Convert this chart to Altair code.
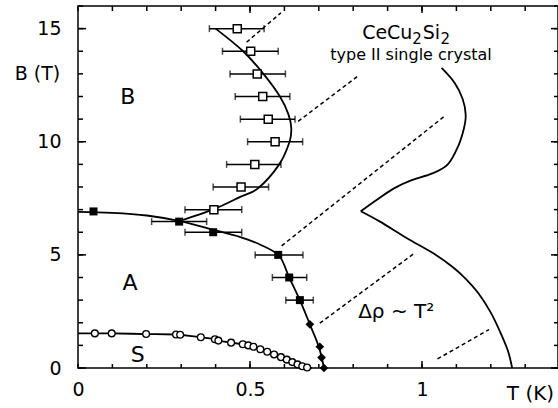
import altair as alt
import pandas as pd

# ---------------- data ----------------
# open squares: upper boundary of phase B, with horizontal error bars
osq_T = [0.463, 0.502, 0.521, 0.537, 0.553, 0.573, 0.514, 0.474, 0.395]
osq_B = [15, 14, 13, 12, 11, 10, 9, 8, 7]
osq_lo = [0.382, 0.420, 0.442, 0.457, 0.472, 0.493, 0.432, 0.393, 0.311]
osq_hi = [0.541, 0.582, 0.603, 0.616, 0.631, 0.653, 0.590, 0.554, 0.476]

# filled squares: A-phase boundary
fsq_T = [0.045, 0.294, 0.393, 0.582, 0.614, 0.645]
fsq_B = [6.92, 6.47, 6.0, 5.0, 4.0, 3.0]
fsq_lo = [None, 0.214, 0.311, 0.515, 0.565, 0.604]
fsq_hi = [None, 0.374, 0.476, 0.654, 0.665, 0.684]

# filled diamonds
dia_T = [0.674, 0.703, 0.708, 0.715]
dia_B = [1.93, 0.94, 0.46, 0.0]

# open circles: superconducting (S) boundary
circ_T = [0.049, 0.098, 0.198, 0.285, 0.297, 0.357, 0.398, 0.408, 0.445, 0.479, 0.495,
          0.510, 0.530, 0.550, 0.570, 0.590, 0.607, 0.623, 0.638, 0.652, 0.666]
circ_B = [1.53, 1.53, 1.50, 1.48, 1.47, 1.36, 1.27, 1.21, 1.12, 1.05, 1.00,
          0.94, 0.83, 0.72, 0.60, 0.48, 0.37, 0.26, 0.16, 0.08, 0.02]

# solid guide lines
lineA_T = [0.0, 0.1, 0.2, 0.3, 0.4, 0.47, 0.53, 0.585, 0.614, 0.645, 0.674, 0.70, 0.715]
lineA_B = [6.9, 6.86, 6.74, 6.48, 6.08, 5.8, 5.45, 4.95, 4.0, 3.0, 1.93, 0.94, 0.0]
lineB_T = [0.29, 0.395, 0.47, 0.524, 0.585, 0.615, 0.62, 0.612, 0.587, 0.539, 0.48, 0.40]
lineB_B = [6.47, 7.02, 7.55, 7.95, 9.0, 10.0, 10.6, 11.2, 12.0, 13.0, 14.0, 15.0]
lineS_T = [0.0] + circ_T + [0.68]
lineS_B = [1.53] + circ_B + [0.0]

# right-hand crossover curve (two branches meeting in a cusp)
rupper_T = [0.822, 0.87, 0.92, 0.97, 1.03, 1.075, 1.105, 1.122, 1.127, 1.118, 1.095, 1.057]
rupper_B = [6.93, 7.45, 7.95, 8.3, 8.6, 9.0, 9.8, 10.6, 11.2, 11.9, 12.6, 13.26]
rlower_T = [0.822, 0.878, 0.955, 1.033, 1.09, 1.13, 1.164, 1.2, 1.227, 1.25, 1.262]
rlower_B = [6.93, 6.47, 5.75, 5.07, 4.45, 3.9, 3.3, 2.45, 1.6, 0.75, 0.0]

# dashed segments (start T, start B, end T, end B)
dash_T0 = [0.49, 0.64, 0.592, 0.703, 1.045]
dash_B0 = [14.4, 10.9, 5.4, 1.98, 0.40]
dash_T1 = [0.59, 0.815, 1.067, 0.975, 1.195]
dash_B1 = [15.7, 12.92, 11.15, 5.04, 1.70]

# annotations (centered)
ann_text = ["B", "A", "S", "type II single crystal", "\u0394\u03c1 ~ T\u00b2"]
ann_T = [0.145, 0.151, 0.174, 0.968, 0.925]
ann_B = [12.0, 3.76, 0.58, 13.82, 2.48]
ann_fs = [22, 22, 22, 16, 20]

# compound name, written piece by piece (left aligned, baseline)
cmp_text = ["CeCu", "2", "Si", "2"]
cmp_T = [0.826, 0.972, 1.002, 1.054]
cmp_B = [14.55, 14.34, 14.55, 14.34]
cmp_fs = [19, 15, 19, 15]

x_ticks_minor = [round(0.1 * i, 1) for i in range(0, 14)]
x_ticks_major = [0.5, 1.0]
x_labels = [0, 0.5, 1]
y_ticks_minor = list(range(0, 17))
y_ticks_major = [0, 5, 10, 15]

# ---------------- layout ----------------
W, H = 480, 362
xmax = 480 / 344.0
FONT = "DejaVu Sans"

xs = alt.Scale(domain=[0, xmax], nice=False, zero=False)
ys = alt.Scale(domain=[0, 16], nice=False, zero=False)


def X(field, axis=None):
    return alt.X(field, type="quantitative", scale=xs, axis=axis)


def Y(field, axis=None):
    return alt.Y(field, type="quantitative", scale=ys, axis=axis)


x_label_axis = alt.Axis(values=x_labels, orient="bottom", format="~g", ticks=False, domain=False,
                        grid=False, labelFont=FONT, labelFontSize=19, labelColor="black",
                        labelPadding=12, labelFlush=False,
                        title="T (K)", titleFont=FONT, titleFontSize=20, titleFontWeight="normal",
                        titleColor="black", titleX=452, titleY=25, titleAlign="center",
                        titleBaseline="middle", titleAngle=0)
y_label_axis = alt.Axis(values=y_ticks_major, orient="left", ticks=False, domain=False, grid=False,
                        labelFont=FONT, labelFontSize=19, labelColor="black", labelPadding=17,
                        labelFlush=False,
                        title="B (T)", titleFont=FONT, titleFontSize=19, titleFontWeight="normal",
                        titleColor="black", titleX=-41, titleY=67, titleAlign="center",
                        titleBaseline="middle", titleAngle=0)

# tables
osq = pd.DataFrame({"T": osq_T, "B": osq_B, "lo": osq_lo, "hi": osq_hi})
fsq = pd.DataFrame({"T": fsq_T, "B": fsq_B, "lo": fsq_lo, "hi": fsq_hi})
err = pd.concat([osq, fsq]).dropna()
caps = pd.concat([err[["B", "lo"]].rename(columns={"lo": "T"}),
                  err[["B", "hi"]].rename(columns={"hi": "T"})])
dia = pd.DataFrame({"T": dia_T, "B": dia_B})
circ = pd.DataFrame({"T": circ_T, "B": circ_B})


def curve(name, T, B):
    return pd.DataFrame({"T": T, "B": B, "i": range(len(T)), "c": name})


curves = pd.concat([curve("A", lineA_T, lineA_B), curve("Bp", lineB_T, lineB_B),
                    curve("S", lineS_T, lineS_B), curve("ru", rupper_T, rupper_B),
                    curve("rl", rlower_T, rlower_B)])
dash_rows = []
for k in range(len(dash_T0)):
    dash_rows.append({"T": dash_T0[k], "B": dash_B0[k], "i": 0, "c": k})
    dash_rows.append({"T": dash_T1[k], "B": dash_B1[k], "i": 1, "c": k})
dashes = pd.DataFrame(dash_rows)
ann = pd.DataFrame({"t": ann_text, "T": ann_T, "B": ann_B, "fs": ann_fs})
cmpd = pd.DataFrame({"t": cmp_text, "T": cmp_T, "B": cmp_B, "fs": cmp_fs})

# ---------------- inward ticks (rules positioned by the scales) ----------------
def xticks(values, length, side):
    d = pd.DataFrame({"T": values})
    if side == "bottom":
        yy = dict(y=alt.value(H - length), y2=alt.value(H))
    else:
        yy = dict(y=alt.value(0), y2=alt.value(length))
    return alt.Chart(d).mark_rule(color="black", strokeWidth=1.5).encode(x=X("T"), **yy)


def yticks(values, length, side):
    d = pd.DataFrame({"B": values})
    if side == "left":
        xx = dict(x=alt.value(0), x2=alt.value(length))
    else:
        xx = dict(x=alt.value(W - length), x2=alt.value(W))
    return alt.Chart(d).mark_rule(color="black", strokeWidth=1.5).encode(y=Y("B"), **xx)


tick_layers = [
    xticks(x_ticks_minor, 4, "bottom"), xticks(x_ticks_major, 7, "bottom"),
    xticks(x_ticks_minor, 5, "top"), xticks(x_ticks_major, 7, "top"),
    yticks(y_ticks_minor, 5, "left"), yticks(y_ticks_major, 8, "left"),
    yticks(y_ticks_minor, 4, "right"), yticks(y_ticks_major, 7, "right"),
]

# ---------------- data layers ----------------
err_layer = alt.Chart(err).mark_rule(color="black", strokeWidth=1.5).encode(
    x=X("lo", x_label_axis), x2="hi", y=Y("B", y_label_axis))
cap_layer = alt.Chart(caps).mark_tick(color="black", orient="vertical", size=7, thickness=1.5).encode(
    x=X("T"), y=Y("B"))
curve_layer = alt.Chart(curves).mark_line(color="black", strokeWidth=1.8, interpolate="cardinal").encode(
    x=X("T"), y=Y("B"), detail="c:N", order="i:Q")
dash_layer = alt.Chart(dashes).mark_line(color="black", strokeWidth=1.5, strokeDash=[4, 3]).encode(
    x=X("T"), y=Y("B"), detail="c:N", order="i:Q")
osq_layer = alt.Chart(osq).mark_point(shape="square", size=64, filled=True, fill="white",
                                      stroke="black", strokeWidth=1.5, opacity=1).encode(
    x=X("T"), y=Y("B"))
fsq_layer = alt.Chart(fsq).mark_point(shape="square", size=64, filled=True, color="black",
                                      opacity=1).encode(x=X("T"), y=Y("B"))
dia_layer = alt.Chart(dia).mark_point(shape="diamond", size=75, filled=True, color="black",
                                      opacity=1).encode(x=X("T"), y=Y("B"))
circ_layer = alt.Chart(circ).mark_point(shape="circle", size=46, filled=True, fill="white",
                                        stroke="black", strokeWidth=1.3, opacity=1).encode(
    x=X("T"), y=Y("B"))
text_layer = alt.Chart(ann).mark_text(font=FONT, color="black", align="center",
                                      baseline="middle").encode(
    x=X("T"), y=Y("B"), text="t:N", size=alt.Size("fs:Q", scale=None, legend=None))
cmp_layer = alt.Chart(cmpd).mark_text(font=FONT, color="black", align="left",
                                      baseline="alphabetic").encode(
    x=X("T"), y=Y("B"), text="t:N", size=alt.Size("fs:Q", scale=None, legend=None))

chart = alt.layer(
    err_layer, *tick_layers, cap_layer, curve_layer, dash_layer, circ_layer,
    osq_layer, fsq_layer, dia_layer, text_layer, cmp_layer
).resolve_axis(x="independent", y="independent").properties(
    width=W, height=H, padding={"left": 78, "top": 6, "right": 0, "bottom": 40},
    autosize=alt.AutoSizeParams(type="none"),
    background="white"
).configure_view(stroke="black", strokeWidth=1.5)

chart.save("out.html", embed_options={"renderer": "svg", "actions": False})
